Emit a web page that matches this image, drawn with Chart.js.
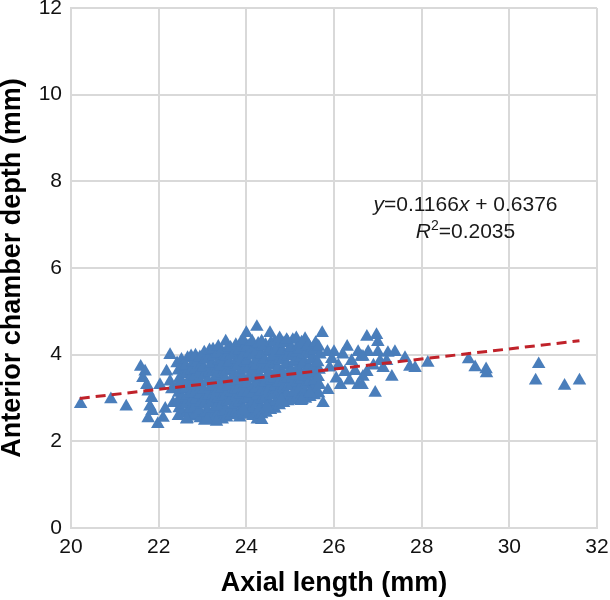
<!DOCTYPE html>
<html>
<head>
<meta charset="utf-8">
<script src="https://cdn.jsdelivr.net/npm/chart.js@4"></script>
<style>
  html, body { margin: 0; padding: 0; background: #fff; }
  canvas { display: block; }
</style>
</head>
<body>
<canvas id="acdChart" width="610" height="600"></canvas>
<script>
// axis ticks
const xTicks = [20, 22, 24, 26, 28, 30, 32];
const yTicks = [0, 2, 4, 6, 8, 10, 12];

// linear fit, end points (y = 0.1166x + 0.6376)
const trendX = [20.2, 31.6];
const trendY = [2.99, 4.32];

// [axial length, anterior chamber depth]
const leftTail = [[20.22, 2.86], [20.91, 2.97], [21.26, 2.80]];

const earlyCluster = [
  [21.59, 3.72], [21.69, 3.61], [21.64, 3.46], [21.73, 3.30], [21.76, 3.15], [21.84, 3.00],
  [21.80, 2.80], [21.76, 2.53], [21.98, 2.40], [22.10, 2.54], [22.03, 3.30], [22.18, 3.61],
  [22.26, 3.99], [22.26, 3.38], [22.33, 2.88], [22.15, 2.75], [22.30, 3.20], [21.85, 2.70]
];

const coreCloud = [
  [22.45, 2.58], [22.47, 2.76], [22.44, 2.93], [22.46, 3.12], [22.43, 3.28], [22.48, 3.46], [22.45, 3.63], [22.42, 3.80],
  [22.55, 2.65], [22.57, 2.84], [22.54, 3.02], [22.56, 3.20], [22.53, 3.37], [22.58, 3.55], [22.55, 3.72], [22.52, 3.88],
  [22.65, 2.52], [22.67, 2.70], [22.64, 2.88], [22.66, 3.05], [22.63, 3.22], [22.68, 3.39], [22.65, 3.57], [22.62, 3.74], [22.66, 3.92],
  [22.75, 2.57], [22.73, 2.75], [22.76, 2.93], [22.74, 3.11], [22.77, 3.28], [22.72, 3.46], [22.75, 3.64], [22.78, 3.81], [22.74, 3.96],
  [22.85, 2.62], [22.83, 2.80], [22.86, 2.97], [22.84, 3.15], [22.87, 3.31], [22.82, 3.49], [22.85, 3.66], [22.88, 3.83], [22.84, 3.98],
  [22.95, 2.53], [22.93, 2.71], [22.96, 2.89], [22.94, 3.07], [22.97, 3.24], [22.92, 3.42], [22.95, 3.60], [22.98, 3.77], [22.94, 3.94],
  [23.05, 2.47], [23.07, 2.66], [23.04, 2.84], [23.06, 3.01], [23.03, 3.19], [23.08, 3.36], [23.05, 3.53], [23.02, 3.71], [23.06, 3.88], [23.04, 4.05],
  [23.15, 2.52], [23.13, 2.70], [23.16, 2.88], [23.14, 3.06], [23.17, 3.23], [23.12, 3.41], [23.15, 3.58], [23.18, 3.76], [23.14, 3.93], [23.16, 4.10],
  [23.25, 2.58], [23.27, 2.75], [23.24, 2.93], [23.26, 3.10], [23.23, 3.27], [23.28, 3.44], [23.25, 3.62], [23.22, 3.79], [23.26, 3.96], [23.24, 4.12],
  [23.35, 2.63], [23.33, 2.81], [23.36, 2.99], [23.34, 3.16], [23.37, 3.33], [23.32, 3.51], [23.35, 3.68], [23.38, 3.86], [23.34, 4.02], [23.36, 4.18],
  [23.45, 2.50], [23.47, 2.69], [23.44, 2.86], [23.46, 3.04], [23.43, 3.21], [23.48, 3.38], [23.45, 3.56], [23.42, 3.73], [23.46, 3.90], [23.44, 4.08],
  [23.55, 2.55], [23.53, 2.73], [23.56, 2.91], [23.54, 3.08], [23.57, 3.26], [23.52, 3.43], [23.55, 3.61], [23.58, 3.78], [23.54, 3.95], [23.56, 4.12], [23.53, 4.30],
  [23.65, 2.60], [23.67, 2.78], [23.64, 2.95], [23.66, 3.13], [23.63, 3.30], [23.68, 3.47], [23.65, 3.65], [23.62, 3.82], [23.66, 3.99], [23.64, 4.16],
  [23.75, 2.66], [23.73, 2.84], [23.76, 3.02], [23.74, 3.19], [23.77, 3.37], [23.72, 3.54], [23.75, 3.72], [23.78, 3.89], [23.74, 4.06], [23.76, 4.22],
  [23.85, 2.55], [23.87, 2.72], [23.84, 2.90], [23.86, 3.07], [23.83, 3.24], [23.88, 3.41], [23.85, 3.59], [23.82, 3.76], [23.86, 3.93], [23.84, 4.10], [23.87, 4.27],
  [23.95, 2.61], [23.93, 2.78], [23.96, 2.96], [23.94, 3.13], [23.97, 3.30], [23.92, 3.48], [23.95, 3.65], [23.98, 3.82], [23.94, 4.00], [23.96, 4.17], [23.93, 4.33],
  [24.05, 2.64], [24.07, 2.82], [24.04, 2.99], [24.06, 3.16], [24.03, 3.34], [24.08, 3.51], [24.05, 3.68], [24.02, 3.86], [24.06, 4.03], [24.04, 4.20],
  [24.15, 2.58], [24.13, 2.76], [24.16, 2.93], [24.14, 3.11], [24.17, 3.28], [24.12, 3.46], [24.15, 3.63], [24.18, 3.80], [24.14, 3.97], [24.16, 4.14], [24.13, 4.31],
  [24.25, 2.50], [24.27, 2.70], [24.24, 2.87], [24.26, 3.05], [24.23, 3.22], [24.28, 3.39], [24.25, 3.57], [24.22, 3.74], [24.26, 3.91], [24.24, 4.08], [24.27, 4.25],
  [24.35, 2.62], [24.33, 2.80], [24.36, 2.97], [24.34, 3.14], [24.37, 3.32], [24.32, 3.49], [24.35, 3.66], [24.38, 3.84], [24.34, 4.01], [24.36, 4.18],
  [24.45, 2.66], [24.47, 2.84], [24.44, 3.01], [24.46, 3.18], [24.43, 3.36], [24.48, 3.53], [24.45, 3.70], [24.42, 3.88], [24.46, 4.05], [24.44, 4.22],
  [24.55, 2.72], [24.53, 2.89], [24.56, 3.06], [24.54, 3.24], [24.57, 3.41], [24.52, 3.58], [24.55, 3.76], [24.58, 3.93], [24.54, 4.10], [24.56, 4.27],
  [24.65, 2.75], [24.67, 2.92], [24.64, 3.10], [24.66, 3.27], [24.63, 3.44], [24.68, 3.62], [24.65, 3.79], [24.62, 3.96], [24.66, 4.13], [24.64, 4.30],
  [24.75, 2.83], [24.73, 3.01], [24.76, 3.18], [24.74, 3.35], [24.77, 3.53], [24.72, 3.70], [24.75, 3.87], [24.78, 4.04], [24.74, 4.21], [24.76, 4.38],
  [24.85, 2.88], [24.87, 3.05], [24.84, 3.22], [24.86, 3.40], [24.83, 3.57], [24.88, 3.74], [24.85, 3.91], [24.82, 4.09], [24.86, 4.26],
  [24.95, 2.92], [24.93, 3.09], [24.96, 3.27], [24.94, 3.44], [24.97, 3.61], [24.92, 3.79], [24.95, 3.96], [24.98, 4.13], [24.94, 4.30],
  [25.05, 2.95], [25.07, 3.12], [25.04, 3.30], [25.06, 3.47], [25.03, 3.64], [25.08, 3.82], [25.05, 3.99], [25.02, 4.16], [25.06, 4.34],
  [25.15, 3.00], [25.13, 3.17], [25.16, 3.35], [25.14, 3.52], [25.17, 3.69], [25.12, 3.86], [25.15, 4.04], [25.18, 4.21], [25.14, 4.38],
  [25.25, 2.93], [25.27, 3.08], [25.24, 3.25], [25.26, 3.42], [25.23, 3.60], [25.28, 3.77], [25.25, 3.94], [25.22, 4.11], [25.26, 4.28],
  [25.35, 2.98], [25.33, 3.15], [25.36, 3.32], [25.34, 3.50], [25.37, 3.67], [25.32, 3.84], [25.35, 4.01], [25.38, 4.19], [25.34, 4.36],
  [25.45, 3.02], [25.47, 3.19], [25.44, 3.37], [25.46, 3.54], [25.43, 3.71], [25.48, 3.88], [25.45, 4.05], [25.42, 4.22],
  [25.55, 3.06], [25.53, 3.24], [25.56, 3.41], [25.54, 3.58], [25.57, 3.76], [25.52, 3.93], [25.55, 4.10], [25.58, 4.27],
  [25.65, 3.10], [25.67, 3.30], [25.64, 3.48], [25.66, 3.65], [25.63, 3.82], [25.68, 4.00], [25.65, 4.18]
];

const cloudEdges = [
  [24.00, 4.50], [24.24, 4.64], [24.54, 4.50], [24.35, 4.30], [24.92, 4.34], [25.73, 4.50],
  [23.10, 2.49], [23.32, 2.45], [22.64, 2.50], [24.35, 2.49], [23.93, 2.72], [24.47, 2.80],
  [24.77, 3.00], [24.80, 2.95], [25.27, 2.95], [25.45, 3.11], [25.75, 2.88], [25.86, 3.18]
];

const upperTail = [
  [26.00, 4.06], [25.85, 4.06], [26.30, 4.18], [26.55, 4.06], [26.66, 3.49], [26.55, 3.30],
  [25.95, 3.90], [26.10, 3.75], [26.25, 3.60], [26.40, 3.85], [26.48, 3.62], [26.20, 4.00],
  [26.05, 3.45], [25.90, 3.70], [26.35, 3.40], [26.62, 3.95], [26.15, 3.30],
  [26.75, 4.41], [26.97, 4.45], [27.00, 4.29], [26.78, 4.06], [27.00, 4.06], [27.23, 4.04],
  [27.39, 4.06], [27.62, 3.92], [27.73, 3.72], [27.85, 3.69], [28.14, 3.81], [27.32, 3.49],
  [26.94, 3.12], [26.64, 3.30], [27.12, 3.69], [26.75, 3.60], [27.05, 3.85], [26.90, 3.75],
  [27.20, 3.85], [26.66, 3.95]
];

const longEyes = [
  [29.07, 3.89], [29.22, 3.71], [29.47, 3.66], [29.48, 3.57],
  [30.67, 3.78], [30.60, 3.40], [31.26, 3.28], [31.60, 3.40]
];

const FONT = "'Liberation Sans', Arial, sans-serif";

function toXY(list) {
  return list.map(p => ({ x: p[0], y: p[1] }));
}

// equation text with italic variables
const equationLabel = {
  id: 'equationLabel',
  afterDatasetsDraw(chart) {
    const ctx = chart.ctx;
    const sx = chart.scales.x;
    const sy = chart.scales.y;
    const cx = sx.getPixelForValue(29.0);
    const drawRuns = (runs, y) => {
      let total = 0;
      runs.forEach(r => { ctx.font = r.font; total += ctx.measureText(r.text).width; });
      let x = cx - total / 2;
      runs.forEach(r => {
        ctx.font = r.font;
        ctx.fillText(r.text, x, y + (r.dy || 0));
        x += ctx.measureText(r.text).width;
      });
    };
    const reg = '21px ' + FONT;
    const ital = 'italic 21px ' + FONT;
    ctx.save();
    ctx.fillStyle = '#1a1a1a';
    ctx.textBaseline = 'middle';
    ctx.textAlign = 'left';
    drawRuns([
      { text: 'y', font: ital },
      { text: '=0.1166', font: reg },
      { text: 'x', font: ital },
      { text: ' + 0.6376', font: reg }
    ], sy.getPixelForValue(7.45));
    drawRuns([
      { text: 'R', font: ital },
      { text: '2', font: '14px ' + FONT, dy: -6 },
      { text: '=0.2035', font: reg }
    ], sy.getPixelForValue(6.83));
    ctx.restore();
  }
};

const gridStyle = { color: '#d9d9d9', lineWidth: 2, drawTicks: false };
const borderStyle = { color: '#d9d9d9', width: 2 };

new Chart(document.getElementById('acdChart'), {
  type: 'scatter',
  data: {
    datasets: [
      {
        type: 'line',
        data: toXY(trendX.map((x, i) => [x, trendY[i]])),
        borderColor: '#c0222a',
        borderWidth: 3,
        borderDash: [10, 6],
        pointRadius: 0,
        fill: false
      },
      {
        data: toXY([].concat(leftTail, earlyCluster, coreCloud, cloudEdges, upperTail, longEyes)),
        pointStyle: 'triangle',
        pointRadius: 7.8,
        backgroundColor: '#4a7ebb',
        borderColor: '#4a7ebb',
        borderWidth: 0
      }
    ]
  },
  options: {
    responsive: false,
    animation: false,
    devicePixelRatio: 1,
    layout: { padding: { left: 0, right: 13, top: 8, bottom: 0 } },
    plugins: {
      legend: { display: false },
      tooltip: { enabled: false }
    },
    scales: {
      x: {
        type: 'linear',
        min: 20,
        max: 32,
        afterBuildTicks: s => { s.ticks = xTicks.map(v => ({ value: v })); },
        afterFit: s => { s.height = 72; s.paddingLeft = 0; s.paddingRight = 0; },
        grid: gridStyle,
        border: borderStyle,
        ticks: { padding: 7, color: '#111', font: { family: FONT, size: 21 }, maxRotation: 0, autoSkip: false },
        title: {
          display: true,
          text: 'Axial length (mm)',
          color: '#000',
          font: { family: FONT, size: 27, weight: 'bold' },
          padding: { top: 0, bottom: 0 }
        }
      },
      y: {
        min: 0,
        max: 12,
        afterBuildTicks: s => { s.ticks = yTicks.map(v => ({ value: v })); },
        afterFit: s => { s.width = 71; s.paddingTop = 0; s.paddingBottom = 0; },
        grid: gridStyle,
        border: borderStyle,
        ticks: { padding: 9, color: '#111', font: { family: FONT, size: 21 }, autoSkip: false },
        title: {
          display: true,
          text: 'Anterior chamber depth (mm)',
          color: '#000',
          font: { family: FONT, size: 27, weight: 'bold' },
          padding: { top: -4, bottom: 0 }
        }
      }
    }
  },
  plugins: [equationLabel]
});
</script>
</body>
</html>
